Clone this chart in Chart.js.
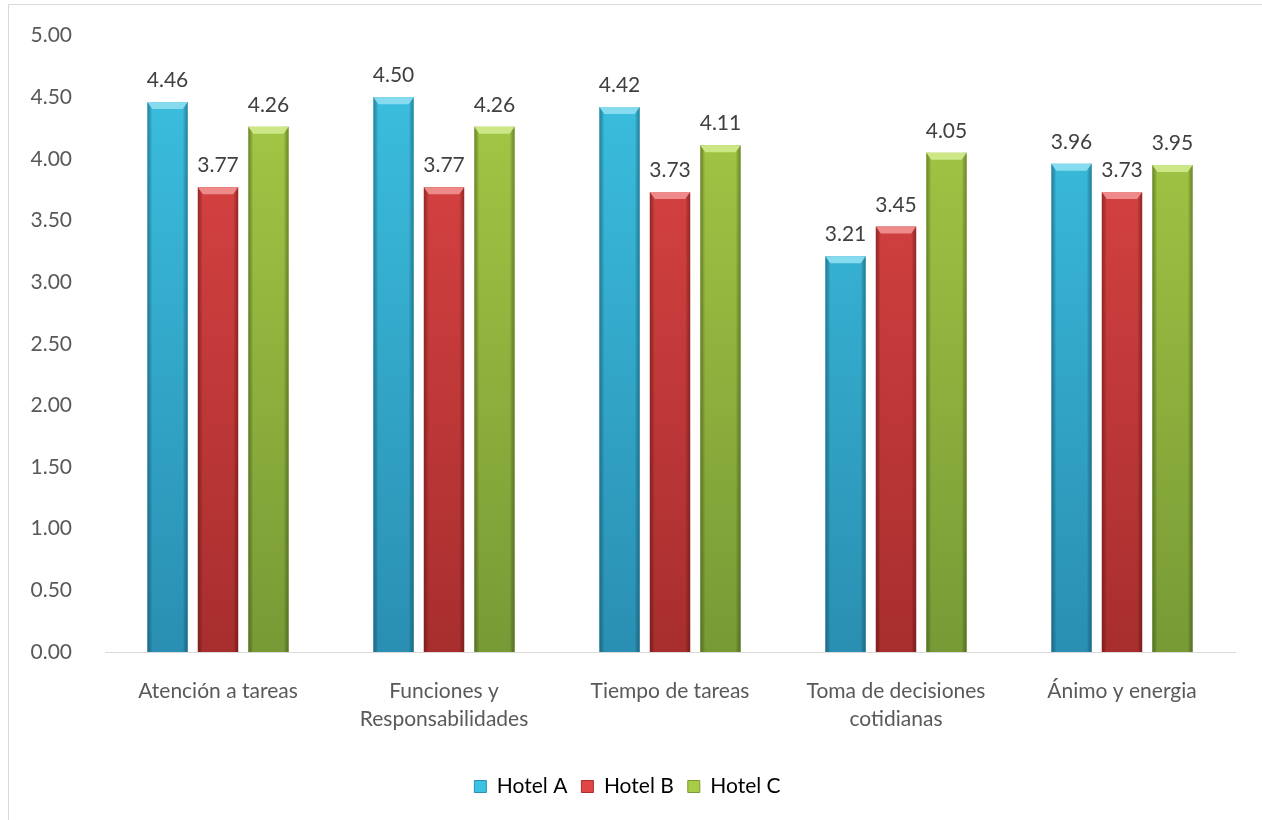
<!DOCTYPE html>
<html>
<head>
<meta charset="utf-8">
<script src="https://cdn.jsdelivr.net/npm/chart.js@4"></script>
<style>
  html, body { margin: 0; padding: 0; background: #fff; }
  #frame {
    position: absolute; left: 8px; top: 4px; width: 1300px; height: 900px;
    border: 1px solid #d9d9d9; box-sizing: border-box;
  }
  #wrap { position: absolute; left: 0; top: 0; width: 1262px; height: 820px; }
</style>
</head>
<body>
<div id="frame"></div>
<div id="wrap"><canvas id="grafico"></canvas></div>
<script>
const categorias = [
    'Atención a tareas',
    ['Funciones y', 'Responsabilidades'],
    'Tiempo de tareas',
    ['Toma de decisiones', 'cotidianas'],
    'Ánimo y energia'
];
const hotelA = [4.46, 4.50, 4.42, 3.21, 3.96];
const hotelB = [3.77, 3.77, 3.73, 3.45, 3.73];
const hotelC = [4.26, 4.26, 4.11, 4.05, 3.95];
const marcasY = ['0.00', '0.50', '1.00', '1.50', '2.00', '2.50', '3.00', '3.50', '4.00', '4.50', '5.00'];

const fuente = 'Lato, "Open Sans", sans-serif';

// colores de cada serie: arriba, abajo, bisel
const tonos = [
    { top: '#3cc2e2', bottom: '#2a8fb2', bevel: '#86dbef', edge: 'rgba(10,70,95,0.45)' },
    { top: '#e04646', bottom: '#a82e2e', bevel: '#ee8a8a', edge: 'rgba(90,10,10,0.45)' },
    { top: '#a8cc46', bottom: '#789a36', bevel: '#cde686', edge: 'rgba(50,70,10,0.45)' }
];

function degradado(i) {
    return function(ctx) {
        const area = ctx.chart.chartArea;
        if (!area) return tonos[i].top;
        const g = ctx.chart.ctx.createLinearGradient(0, area.top, 0, area.bottom);
        g.addColorStop(0, tonos[i].top);
        g.addColorStop(1, tonos[i].bottom);
        return g;
    };
}

// sombreado lateral, bisel superior y etiqueta de valor
const biselBarras = {
    id: 'biselBarras',
    afterDatasetsDraw(chart) {
        const c = chart.ctx;
        chart.data.datasets.forEach((ds, di) => {
            const meta = chart.getDatasetMeta(di);
            meta.data.forEach((bar, i) => {
                const p = bar.getProps(['x', 'y', 'base', 'width'], true);
                const l = p.x - p.width / 2, r = p.x + p.width / 2;
                const t = p.y, b = p.base;
                const h = 7, s = 5;
                c.save();
                // sombra lateral
                const g = c.createLinearGradient(l, 0, r, 0);
                g.addColorStop(0, tonos[di].edge);
                g.addColorStop(0.12, 'rgba(0,0,0,0)');
                g.addColorStop(0.88, 'rgba(0,0,0,0)');
                g.addColorStop(1, tonos[di].edge);
                c.fillStyle = g;
                c.fillRect(l, t, r - l, b - t);
                // bisel superior
                c.beginPath();
                c.moveTo(l, t);
                c.lineTo(r, t);
                c.lineTo(r - s, t + h);
                c.lineTo(l + s, t + h);
                c.closePath();
                c.fillStyle = tonos[di].bevel;
                c.fill();
                // etiqueta
                c.fillStyle = '#404040';
                c.font = '21px ' + fuente;
                c.textAlign = 'center';
                c.textBaseline = 'alphabetic';
                c.fillText(ds.data[i].toFixed(2), p.x, t - 15);
                c.restore();
            });
        });
    }
};

const ctx = document.getElementById('grafico').getContext('2d');
new Chart(ctx, {
    type: 'bar',
    data: {
        labels: categorias,
        datasets: [
            { label: 'Hotel A', data: hotelA, backgroundColor: degradado(0) },
            { label: 'Hotel B', data: hotelB, backgroundColor: degradado(1) },
            { label: 'Hotel C', data: hotelC, backgroundColor: degradado(2) }
        ]
    },
    options: {
        responsive: true,
        maintainAspectRatio: false,
        animation: false,
        categoryPercentage: 0.67,
        barPercentage: 0.8,
        layout: { padding: { left: 20, right: 27, top: 22, bottom: 13 } },
        plugins: {
            legend: {
                position: 'bottom',
                labels: {
                    boxWidth: 12,
                    boxHeight: 12,
                    padding: 14,
                    color: '#595959',
                    font: { family: fuente, size: 21 },
                    generateLabels(chart) {
                        return chart.data.datasets.map((ds, i) => ({
                            text: ds.label,
                            fillStyle: tonos[i].top,
                            strokeStyle: tonos[i].bottom,
                            lineWidth: 1,
                            datasetIndex: i
                        }));
                    }
                }
            },
            tooltip: { enabled: false }
        },
        scales: {
            x: {
                grid: { display: false },
                border: { display: true, color: '#d9d9d9', width: 1 },
                afterFit(scale) { scale.height = 110; },
                ticks: {
                    color: '#595959',
                    padding: 17,
                    font: { family: fuente, size: 21, lineHeight: 1.33 },
                    maxRotation: 0
                }
            },
            y: {
                min: 0,
                max: 5,
                grid: { display: false },
                border: { display: false },
                afterFit(scale) { scale.width = 85; },
                ticks: {
                    stepSize: 0.5,
                    color: '#595959',
                    padding: 25,
                    font: { family: fuente, size: 21, lineHeight: 1.0 },
                    callback: (v, i) => marcasY[i]
                }
            }
        }
    },
    plugins: [biselBarras]
});
</script>
</body>
</html>
